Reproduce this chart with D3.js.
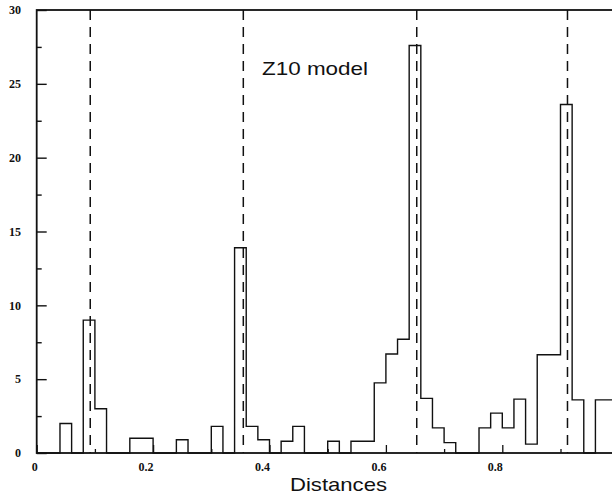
<!DOCTYPE html>
<html>
<head>
<meta charset="utf-8">
<script src="https://cdn.jsdelivr.net/npm/d3@7"></script>
<style>
  html, body { margin: 0; padding: 0; background: #fff; }
  svg { display: block; }
</style>
</head>
<body>
<svg id="chart" width="612" height="501"></svg>
<script>
// Histogram of distances, bins of width 0.02 over [0, 1]
const binWidth = 0.02;
const counts = [
  0, 0, 2, 0, 9, 3, 0, 0, 1, 1,
  0, 0, 0.9, 0, 0, 1.8, 0, 13.9, 1.8, 0.9,
  0, 0.8, 1.8, 0, 0, 0.8, 0, 0.8, 0.8, 4.75,
  6.7, 7.7, 27.6, 3.7, 1.7, 0.7, 0, 0, 1.7, 2.7,
  1.7, 3.65, 0.6, 6.65, 6.65, 23.6, 3.6, 0, 3.6, 3.6
];
// Reference distances of the Z10 model (dashed markers)
const modelDistances = [0.092, 0.355, 0.653, 0.912];
const xTickValues = [0, 0.2, 0.4, 0.6, 0.8];
const xTickLabels = ["0", "0.2", "0.4", "0.6", "0.8"];
const yTickValues = [0, 5, 10, 15, 20, 25, 30];
const title = "Z10 model";
const xTitle = "Distances";

const svg = d3.select("#chart");
const x = d3.scaleLinear().domain([0, 1]).range([36.7, 618.7]);
const y = d3.scaleLinear().domain([0, 30]).range([453, 10]);

// step outline of the histogram
const stepPoints = [[0, 0]];
counts.forEach((c, i) => {
  stepPoints.push([i * binWidth, c]);
  stepPoints.push([(i + 1) * binWidth, c]);
});
stepPoints.push([counts.length * binWidth, 0]);

svg.append("path")
  .datum(stepPoints)
  .attr("d", d3.line().x(d => x(d[0])).y(d => y(d[1])))
  .attr("fill", "none")
  .attr("stroke", "#111")
  .attr("stroke-width", 1.4)
  .attr("stroke-linejoin", "miter");

// dashed model markers
svg.append("g")
  .selectAll("line")
  .data(modelDistances)
  .join("line")
  .attr("x1", d => x(d)).attr("x2", d => x(d))
  .attr("y1", y(30)).attr("y2", y(0))
  .attr("stroke", "#111")
  .attr("stroke-width", 1.5)
  .attr("stroke-dasharray", "10,7");

// frame around the plotting area
svg.append("rect")
  .attr("x", x(0)).attr("y", y(30))
  .attr("width", x(1) - x(0)).attr("height", y(0) - y(30))
  .attr("fill", "none")
  .attr("stroke", "#111")
  .attr("stroke-width", 1.8);

// y axis ticks pointing inward
const yAxis = d3.axisRight(y)
  .tickValues(d3.range(0, 30.01, 2.5))
  .tickSize(0)
  .tickFormat("");
const yG = svg.append("g").attr("transform", `translate(${x(0)},0)`).call(yAxis);
yG.select(".domain").remove();
yG.selectAll(".tick line")
  .attr("x2", d => (d % 5 === 0 ? 10 : 5))
  .attr("stroke", "#111")
  .attr("stroke-width", 1.4);

svg.append("g")
  .selectAll("text")
  .data(yTickValues)
  .join("text")
  .attr("x", 21)
  .attr("y", d => y(d))
  .attr("dy", "0.35em")
  .attr("text-anchor", "end")
  .attr("font-family", "'Liberation Serif', 'DejaVu Serif', serif")
  .attr("font-weight", "bold")
  .attr("font-size", 12)
  .attr("fill", "#111")
  .text(d => d);

// x axis ticks pointing inward
const xAxis = d3.axisTop(x)
  .tickValues(d3.range(0, 1.0001, 0.1))
  .tickSize(0)
  .tickFormat("");
const xG = svg.append("g").attr("transform", `translate(0,${y(0)})`).call(xAxis);
xG.select(".domain").remove();
xG.selectAll(".tick line")
  .attr("y2", (d, i) => (i % 2 === 0 ? -8 : -4))
  .attr("stroke", "#111")
  .attr("stroke-width", 1.3);

svg.append("g")
  .selectAll("text")
  .data(xTickValues)
  .join("text")
  .attr("x", (d, i) => x(d) - (i === 0 ? 2 : 7))
  .attr("y", 471)
  .attr("text-anchor", "middle")
  .attr("font-family", "'Liberation Serif', 'DejaVu Serif', serif")
  .attr("font-weight", "bold")
  .attr("font-size", 12)
  .attr("fill", "#111")
  .text((d, i) => xTickLabels[i]);

// title and axis title
svg.append("text")
  .attr("x", 262).attr("y", 75)
  .attr("font-family", "'Liberation Sans', Arial, sans-serif")
  .attr("font-size", 19)
  .attr("textLength", 106)
  .attr("lengthAdjust", "spacingAndGlyphs")
  .attr("fill", "#111")
  .text(title);

svg.append("text")
  .attr("x", 290).attr("y", 491)
  .attr("font-family", "'Liberation Sans', Arial, sans-serif")
  .attr("font-size", 19)
  .attr("textLength", 97)
  .attr("lengthAdjust", "spacingAndGlyphs")
  .attr("fill", "#111")
  .text(xTitle);
</script>
</body>
</html>
